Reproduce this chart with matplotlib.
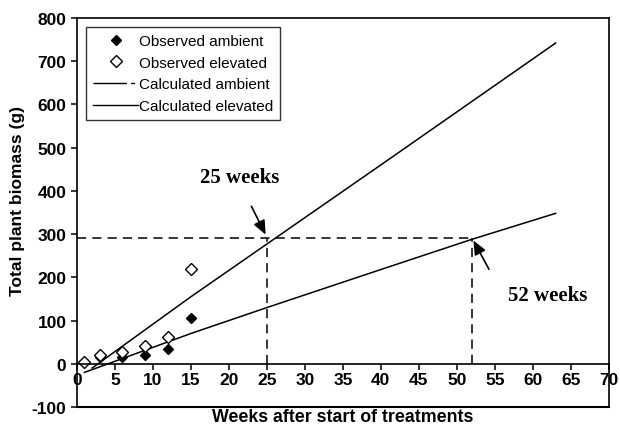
import matplotlib
matplotlib.use("Agg")
import matplotlib.pyplot as plt
from matplotlib.lines import Line2D

plt.rcParams['font.family'] = ['Liberation Sans', 'DejaVu Sans']
plt.rcParams['axes.unicode_minus'] = False

# observed data
obs_weeks_amb = [3, 6, 9, 12, 15]
obs_amb = [15, 15, 20, 33, 107]
obs_weeks_elev = [1, 3, 6, 9, 12, 15]
obs_elev = [5, 20, 28, 40, 62, 220]

# calculated lines
calc_weeks_amb = [1, 15, 25, 40, 52, 63]
calc_amb = [-20, 70, 130, 218, 288, 348]
calc_weeks_elev = [2, 15, 25, 40, 63]
calc_elev = [-10, 155, 277, 460, 742]

target = 290
weeks_marks = [25, 52]

fig = plt.figure(figsize=(6.2, 4.31), dpi=100)
ax = fig.add_axes([0.124, 0.0534, 0.858, 0.9026])

ax.plot(calc_weeks_amb, calc_amb, color='black', lw=1.1)
ax.plot(calc_weeks_elev, calc_elev, color='black', lw=1.1)
ax.plot(obs_weeks_amb, obs_amb, 'D', color='black', ms=5, ls='none')
ax.plot(obs_weeks_elev, obs_elev, 'D', mfc='white', mec='black', mew=1.0, ms=6.5, ls='none')

# dashed guides
ax.plot([0, weeks_marks[1]], [target, target], color='black', lw=1.1, ls=(0, (6, 4)))
for w in weeks_marks:
    ax.plot([w, w], [0, target], color='black', lw=1.1, ls=(0, (6, 4)))

arrow_style = '-|>,head_length=0.7,head_width=0.3'
ax.annotate('', xy=(25, 293), xytext=(22.8, 370),
            arrowprops=dict(arrowstyle=arrow_style, color='black', lw=1.2, mutation_scale=12))
ax.annotate('', xy=(52, 291), xytext=(54.4, 213),
            arrowprops=dict(arrowstyle=arrow_style, color='black', lw=1.2, mutation_scale=12))
ax.text(21.4, 432, '25 weeks', family='Liberation Serif', fontweight='bold',
        fontsize=15, ha='center', va='center')
ax.text(62, 160, '52 weeks', family='Liberation Serif', fontweight='bold',
        fontsize=15, ha='center', va='center')

ax.set_xlim(0, 70)
ax.set_ylim(-100, 800)
ax.set_xticks(range(0, 71, 5))
ax.set_yticks(range(-100, 801, 100))
ax.spines['bottom'].set_position(('data', 0))
ax.axhline(-100, color='black', lw=1.5, clip_on=False)
for s in ax.spines.values():
    s.set_linewidth(1.2)
ax.tick_params(axis='both', direction='out', length=4, width=1.1, labelsize=12.5)
ax.tick_params(axis='x', pad=2)
for lab in ax.get_xticklabels() + ax.get_yticklabels():
    lab.set_fontweight('bold')

handles = [
    Line2D([], [], marker='D', color='black', ls='none', ms=5),
    Line2D([], [], marker='D', mfc='white', mec='black', ls='none', ms=6.5),
    Line2D([], [], color='black', lw=1.0, ls=(0, (24, 3, 3, 30))),
    Line2D([], [], color='black', lw=1.0),
]
labels = ['Observed ambient', 'Observed elevated', 'Calculated ambient', 'Calculated elevated']
leg = ax.legend(handles, labels, loc='upper left', bbox_to_anchor=(0.008, 0.988),
                fontsize=11, frameon=True, fancybox=False, edgecolor='black',
                handlelength=3.0, handletextpad=0.05, borderpad=0.45, labelspacing=0.5,
                borderaxespad=0.3)
leg.get_frame().set_linewidth(1.0)

fig.text(0.028, 0.534, 'Total plant biomass (g)', rotation=90, ha='center', va='center',
         fontsize=12.5, fontweight='bold')
fig.text(0.553, 0.032, 'Weeks after start of treatments', ha='center', va='center',
         fontsize=12.8, fontweight='bold')

fig.savefig('out.png', dpi=100)
